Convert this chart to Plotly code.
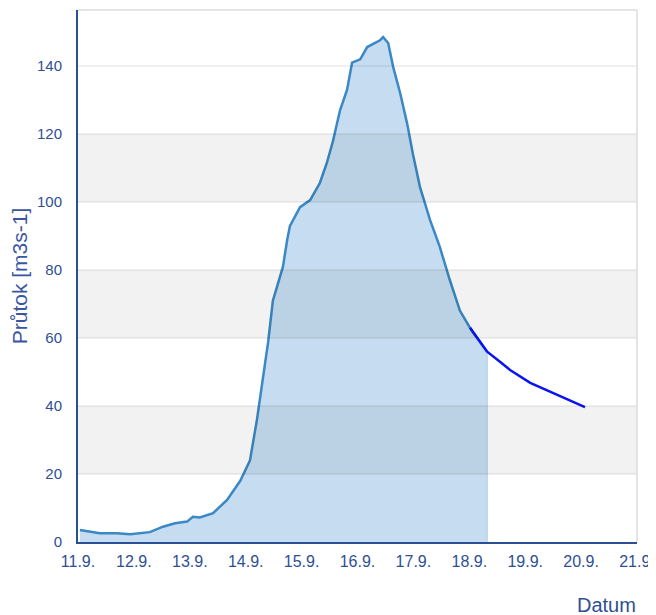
import plotly.graph_objects as go

obs_time = [
    "2024-09-11 00:50", "2024-09-11 06:20", "2024-09-11 09:20", "2024-09-11 16:40",
    "2024-09-11 22:20", "2024-09-12 06:50", "2024-09-12 12:30", "2024-09-12 17:40",
    "2024-09-12 22:50", "2024-09-13 01:20", "2024-09-13 04:20", "2024-09-13 10:00",
    "2024-09-13 16:00", "2024-09-13 21:40", "2024-09-14 01:50", "2024-09-14 04:50",
    "2024-09-14 07:20", "2024-09-14 09:40", "2024-09-14 11:40", "2024-09-14 16:00",
    "2024-09-14 17:50", "2024-09-14 19:00", "2024-09-14 23:20", "2024-09-15 03:40",
    "2024-09-15 07:50", "2024-09-15 10:50", "2024-09-15 13:30", "2024-09-15 16:30",
    "2024-09-15 19:30", "2024-09-15 21:40", "2024-09-16 01:10", "2024-09-16 04:10",
    "2024-09-16 09:40", "2024-09-16 11:00", "2024-09-16 13:10", "2024-09-16 15:20",
    "2024-09-16 18:20", "2024-09-16 21:20", "2024-09-16 23:50", "2024-09-17 02:50",
    "2024-09-17 07:10", "2024-09-17 11:20", "2024-09-17 15:40", "2024-09-17 20:00",
    "2024-09-18 01:10", "2024-09-18 07:40",
]
obs_flow = [
    3.5, 3.0, 2.6, 2.6,
    2.3, 2.9, 4.5, 5.5,
    6.0, 7.4, 7.2, 8.5,
    12.4, 18.0, 24.0, 36.0,
    48.0, 59.0, 71.0, 81.0,
    89.0, 93.0, 98.5, 100.6,
    105.6, 111.5, 118.0, 127.0,
    133.0, 141.0, 142.0, 145.6,
    147.6, 148.5, 146.8, 139.7,
    132.0, 123.0, 114.0, 104.4,
    94.7, 86.8, 77.0, 68.0,
    62.0, 56.0,
]

fc_time = [
    "2024-09-18 00:20", "2024-09-18 07:40", "2024-09-18 13:10", "2024-09-18 17:30",
    "2024-09-19 02:10", "2024-09-19 12:00", "2024-09-19 19:10", "2024-09-20 01:40",
]
fc_flow = [63.0, 56.0, 53.0, 50.6, 46.8, 43.8, 41.8, 39.7]

tick_dates = ["2024-09-%02d" % d for d in range(11, 22)]
tick_labels = ["%d.9." % d for d in range(11, 22)]
y_ticks = [0, 20, 40, 60, 80, 100, 120, 140]

AXIS_BLUE = "#2b4f94"
TEXT_BLUE = "#2f4f93"

fig = go.Figure()

# filled area (observed)
fig.add_trace(go.Scatter(
    x=obs_time + [obs_time[-1]], y=obs_flow + [0],
    mode="lines", fill="tozeroy",
    fillcolor="#c6ddf1", line=dict(color="#a8cae8", width=1),
    hoverinfo="skip",
))
# observed line
fig.add_trace(go.Scatter(
    x=obs_time, y=obs_flow, mode="lines",
    line=dict(color="#3a88c5", width=2.5),
))
# forecast line
fig.add_trace(go.Scatter(
    x=fc_time, y=fc_flow, mode="lines",
    line=dict(color="#0a14f0", width=2.5),
))

shapes = []
# alternating bands drawn over the fill
for lo in [20, 60, 100]:
    shapes.append(dict(type="rect", xref="paper", yref="y", x0=0, x1=1, y0=lo, y1=lo + 20,
                       fillcolor="rgba(0,0,0,0.05)", line=dict(width=0), layer="above"))
for v in y_ticks[1:]:
    shapes.append(dict(type="line", xref="paper", yref="y", x0=0, x1=1, y0=v, y1=v,
                       line=dict(color="rgba(0,0,0,0.08)", width=1.5), layer="above"))
# light frame on top and right
shapes.append(dict(type="line", xref="paper", yref="paper", x0=0, x1=1, y0=1, y1=1,
                   line=dict(color="#dcdcdc", width=1.5)))
shapes.append(dict(type="line", xref="paper", yref="paper", x0=1, x1=1, y0=0, y1=1,
                   line=dict(color="#dcdcdc", width=1.5)))

# the page body adds an 8px offset, so the figure is sized/margined to compensate
fig.update_layout(
    width=656, height=607,
    margin=dict(l=70, r=27, t=2, b=73),
    paper_bgcolor="white", plot_bgcolor="white",
    showlegend=False,
    font=dict(family="Liberation Sans, Arial, sans-serif", color=TEXT_BLUE, size=16),
    shapes=shapes,
    xaxis=dict(
        type="date", range=[tick_dates[0], tick_dates[-1]],
        tickmode="array", tickvals=tick_dates, ticktext=tick_labels,
        showgrid=False, zeroline=False, automargin=False,
        showline=True, linecolor=AXIS_BLUE, linewidth=2,
        ticks="", ticklabelstandoff=4, tickfont=dict(size=16, color=TEXT_BLUE),
    ),
    yaxis=dict(
        range=[0, 156.5], tickmode="array", tickvals=y_ticks,
        showgrid=False, zeroline=False, automargin=False,
        showline=True, linecolor=AXIS_BLUE, linewidth=2,
        ticks="", ticklabelstandoff=11, tickfont=dict(size=15, color=TEXT_BLUE),
        title=dict(text="Průtok [m3s-1]", font=dict(size=21, color="#3a56a3"), standoff=8),
    ),
    annotations=[dict(text="Datum", xref="paper", yref="paper", x=1.0, y=0, xanchor="center",
                      yanchor="middle", xshift=-31, yshift=-63, showarrow=False,
                      font=dict(size=20, color=TEXT_BLUE))],
)

fig.write_html("out.html")
